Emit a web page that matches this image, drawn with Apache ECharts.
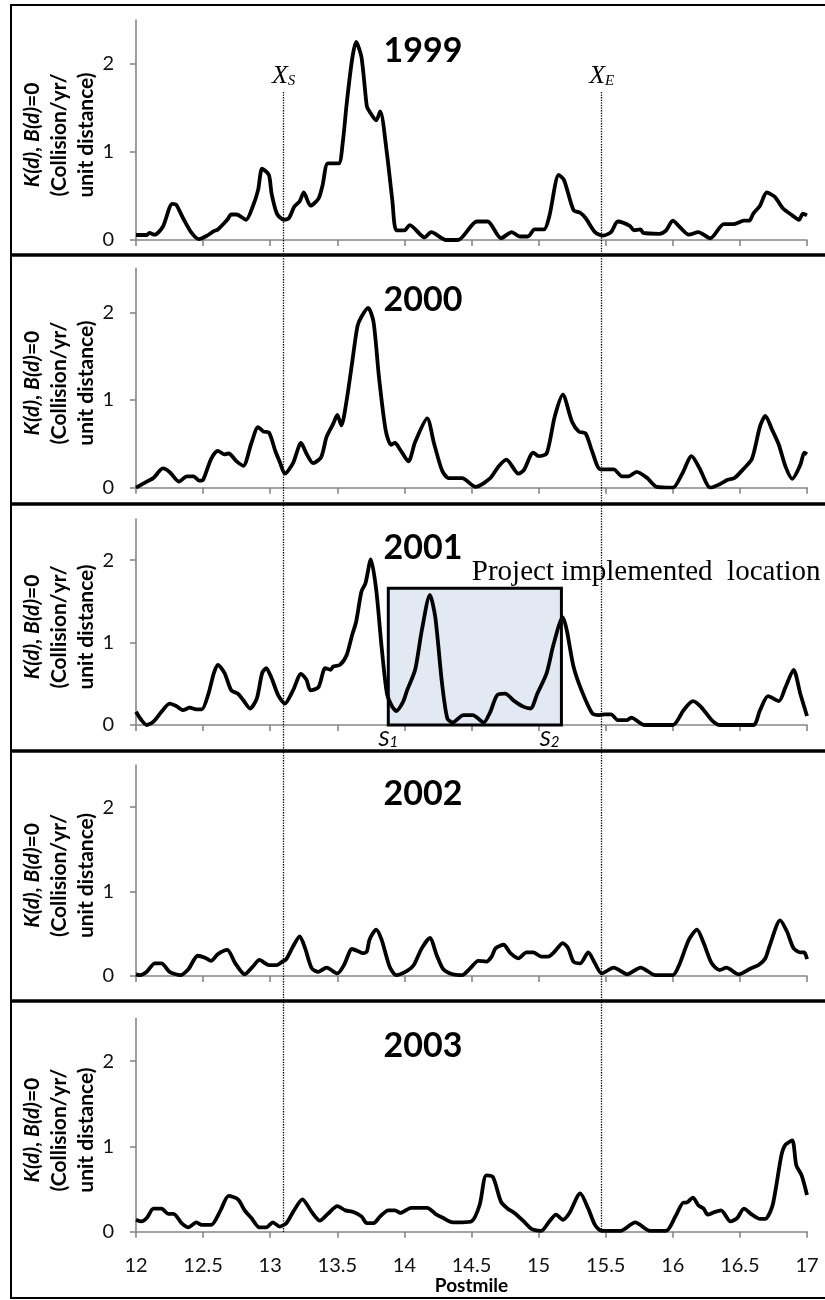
<!DOCTYPE html>
<html><head><meta charset="utf-8">
<script src="https://cdn.jsdelivr.net/npm/echarts@6/dist/echarts.min.js"></script>
<style>html,body{margin:0;padding:0;background:#fff}#c{width:825px;height:1300px}</style>
</head><body><div id="c"></div>
<script>
// ---------------- data ----------------
const years = ['1999', '2000', '2001', '2002', '2003'];
const yTickValues = [0, 1, 2];
const boundaryX = [13.1, 15.47];
const boundaryNames = ['S', 'E'];
const projectStart = 13.88, projectEnd = 15.17, projectTop = 1.66;
const projectLabel = 'Project implemented  location';
const siteNames = ['1', '2'];

const k1999 = [[12.0,0.057],[12.08,0.057],[12.1,0.08],[12.14,0.06],[12.2,0.15],[12.27,0.41],[12.3,0.40],[12.35,0.25],[12.41,0.09],[12.47,0.01],[12.53,0.05],[12.58,0.10],[12.61,0.12],[12.68,0.23],[12.71,0.29],[12.75,0.29],[12.82,0.23],[12.87,0.38],[12.91,0.57],[12.94,0.81],[12.99,0.74],[13.01,0.53],[13.05,0.30],[13.10,0.23],[13.14,0.25],[13.18,0.38],[13.22,0.44],[13.25,0.54],[13.30,0.39],[13.36,0.47],[13.39,0.62],[13.43,0.87],[13.51,0.87],[13.54,1.10],[13.57,1.55],[13.61,2.05],[13.64,2.25],[13.68,2.08],[13.72,1.52],[13.74,1.46],[13.79,1.36],[13.82,1.46],[13.87,0.98],[13.91,0.45],[13.94,0.11],[14.00,0.11],[14.04,0.17],[14.12,0.06],[14.15,0.03],[14.20,0.09],[14.31,0.0],[14.40,0.0],[14.54,0.21],[14.62,0.21],[14.72,0.02],[14.80,0.09],[14.86,0.04],[14.92,0.04],[14.97,0.12],[15.04,0.12],[15.08,0.27],[15.15,0.74],[15.19,0.68],[15.26,0.34],[15.31,0.31],[15.35,0.25],[15.42,0.09],[15.48,0.05],[15.54,0.09],[15.59,0.21],[15.68,0.16],[15.71,0.11],[15.76,0.12],[15.78,0.08],[15.90,0.07],[15.95,0.11],[16.00,0.22],[16.05,0.15],[16.12,0.06],[16.19,0.09],[16.28,0.02],[16.38,0.18],[16.45,0.18],[16.53,0.22],[16.57,0.22],[16.60,0.30],[16.65,0.39],[16.70,0.54],[16.76,0.49],[16.82,0.36],[16.89,0.28],[16.94,0.23],[16.97,0.30],[17.0,0.28]];
const k2000 = [[12.0,0],[12.08,0.07],[12.13,0.11],[12.2,0.22],[12.25,0.18],[12.32,0.07],[12.38,0.13],[12.43,0.13],[12.47,0.08],[12.5,0.09],[12.56,0.33],[12.61,0.42],[12.66,0.38],[12.69,0.39],[12.75,0.30],[12.8,0.25],[12.86,0.51],[12.91,0.69],[12.95,0.64],[12.99,0.63],[13.04,0.41],[13.07,0.30],[13.11,0.16],[13.17,0.28],[13.23,0.51],[13.27,0.39],[13.32,0.28],[13.38,0.35],[13.42,0.58],[13.47,0.73],[13.5,0.83],[13.53,0.71],[13.57,1.0],[13.61,1.42],[13.65,1.84],[13.68,1.95],[13.73,2.05],[13.77,1.89],[13.81,1.27],[13.86,0.66],[13.9,0.49],[13.93,0.51],[13.97,0.43],[14.03,0.30],[14.08,0.52],[14.17,0.79],[14.22,0.51],[14.28,0.20],[14.33,0.11],[14.43,0.11],[14.53,0.01],[14.64,0.11],[14.7,0.24],[14.76,0.32],[14.85,0.16],[14.89,0.2],[14.96,0.4],[15.0,0.36],[15.06,0.39],[15.12,0.81],[15.18,1.06],[15.25,0.75],[15.3,0.64],[15.35,0.62],[15.4,0.41],[15.46,0.21],[15.56,0.21],[15.62,0.13],[15.67,0.13],[15.73,0.18],[15.81,0.11],[15.88,0.01],[16.0,0],[16.07,0.16],[16.14,0.36],[16.2,0.22],[16.28,0],[16.35,0.04],[16.41,0.09],[16.46,0.11],[16.53,0.22],[16.59,0.33],[16.65,0.70],[16.69,0.82],[16.74,0.66],[16.79,0.49],[16.84,0.24],[16.89,0.10],[16.95,0.26],[16.98,0.40],[17.0,0.38]];
const k2001 = [[12.0,0.16],[12.04,0.06],[12.08,0],[12.13,0.04],[12.19,0.16],[12.25,0.26],[12.3,0.23],[12.35,0.18],[12.4,0.21],[12.45,0.19],[12.49,0.19],[12.54,0.38],[12.58,0.63],[12.61,0.73],[12.66,0.63],[12.71,0.42],[12.76,0.38],[12.8,0.30],[12.85,0.20],[12.9,0.32],[12.94,0.63],[12.97,0.69],[13.01,0.57],[13.06,0.36],[13.11,0.26],[13.17,0.42],[13.23,0.62],[13.27,0.55],[13.3,0.42],[13.36,0.46],[13.41,0.69],[13.45,0.67],[13.47,0.71],[13.52,0.73],[13.57,0.85],[13.61,1.09],[13.64,1.25],[13.68,1.62],[13.71,1.72],[13.75,2.01],[13.79,1.64],[13.83,0.95],[13.87,0.38],[13.91,0.22],[13.94,0.17],[13.99,0.28],[14.02,0.42],[14.08,0.67],[14.13,1.15],[14.19,1.58],[14.23,1.31],[14.28,0.51],[14.32,0.08],[14.36,0.03],[14.44,0.12],[14.51,0.12],[14.59,0.03],[14.64,0.16],[14.69,0.36],[14.75,0.38],[14.82,0.29],[14.89,0.22],[14.94,0.20],[14.99,0.38],[15.06,0.63],[15.11,0.97],[15.18,1.31],[15.21,1.15],[15.26,0.71],[15.32,0.42],[15.4,0.14],[15.45,0.12],[15.5,0.13],[15.54,0.13],[15.59,0.06],[15.66,0.06],[15.69,0.09],[15.79,0],[16.0,0],[16.08,0.18],[16.15,0.29],[16.21,0.22],[16.29,0.06],[16.35,0],[16.6,0],[16.65,0.18],[16.71,0.35],[16.79,0.29],[16.84,0.46],[16.9,0.67],[16.95,0.38],[17.0,0.11]];
const k2002 = [[12.0,0.02],[12.03,0.01],[12.08,0.05],[12.14,0.15],[12.19,0.15],[12.25,0.05],[12.33,0.01],[12.39,0.08],[12.46,0.24],[12.51,0.22],[12.56,0.18],[12.61,0.26],[12.68,0.31],[12.74,0.15],[12.81,0.02],[12.87,0.11],[12.92,0.19],[12.99,0.13],[13.05,0.13],[13.09,0.17],[13.12,0.2],[13.17,0.35],[13.22,0.47],[13.26,0.33],[13.31,0.09],[13.36,0.05],[13.42,0.10],[13.5,0.03],[13.55,0.13],[13.61,0.32],[13.66,0.29],[13.69,0.27],[13.72,0.29],[13.74,0.43],[13.79,0.55],[13.83,0.43],[13.89,0.11],[13.94,0.01],[14.02,0.06],[14.07,0.13],[14.13,0.33],[14.19,0.45],[14.24,0.25],[14.29,0.08],[14.36,0.02],[14.43,0.01],[14.49,0.09],[14.55,0.18],[14.61,0.17],[14.65,0.23],[14.68,0.33],[14.74,0.37],[14.79,0.27],[14.85,0.21],[14.91,0.28],[14.96,0.28],[15.02,0.23],[15.07,0.23],[15.12,0.29],[15.18,0.39],[15.22,0.33],[15.26,0.17],[15.31,0.15],[15.37,0.28],[15.42,0.15],[15.47,0.03],[15.56,0.10],[15.66,0.02],[15.76,0.10],[15.87,0.01],[16.0,0.01],[16.05,0.14],[16.12,0.43],[16.18,0.55],[16.23,0.39],[16.29,0.15],[16.35,0.07],[16.4,0.10],[16.49,0.02],[16.58,0.09],[16.64,0.13],[16.69,0.21],[16.72,0.35],[16.8,0.66],[16.85,0.53],[16.9,0.33],[16.95,0.28],[16.98,0.28],[17.0,0.2]];
const k2003 = [[12.0,0.14],[12.04,0.12],[12.08,0.16],[12.13,0.27],[12.19,0.27],[12.24,0.21],[12.28,0.21],[12.34,0.10],[12.39,0.05],[12.45,0.11],[12.49,0.08],[12.56,0.08],[12.63,0.25],[12.69,0.42],[12.76,0.38],[12.81,0.25],[12.86,0.16],[12.92,0.05],[12.97,0.05],[13.02,0.11],[13.07,0.06],[13.12,0.10],[13.17,0.23],[13.24,0.38],[13.31,0.23],[13.37,0.13],[13.43,0.21],[13.5,0.30],[13.56,0.25],[13.62,0.23],[13.68,0.18],[13.72,0.10],[13.77,0.10],[13.82,0.18],[13.88,0.25],[13.93,0.25],[13.97,0.22],[14.05,0.28],[14.17,0.28],[14.23,0.21],[14.29,0.16],[14.36,0.11],[14.43,0.11],[14.5,0.12],[14.56,0.31],[14.61,0.66],[14.66,0.64],[14.72,0.35],[14.77,0.27],[14.82,0.22],[14.89,0.12],[14.95,0.03],[15.02,0.01],[15.08,0.12],[15.13,0.20],[15.18,0.14],[15.23,0.22],[15.31,0.45],[15.37,0.27],[15.42,0.08],[15.47,0.01],[15.61,0.01],[15.72,0.11],[15.83,0.01],[15.95,0.01],[16.02,0.18],[16.08,0.34],[16.1,0.34],[16.15,0.40],[16.19,0.31],[16.23,0.27],[16.26,0.20],[16.31,0.23],[16.36,0.25],[16.43,0.12],[16.48,0.16],[16.53,0.27],[16.59,0.20],[16.65,0.15],[16.69,0.15],[16.74,0.29],[16.77,0.53],[16.81,0.90],[16.84,1.02],[16.89,1.07],[16.92,0.78],[16.96,0.66],[17.0,0.43]];
const seriesData = [k1999, k2000, k2001, k2002, k2003];

// ---------------- layout ----------------
const SANS = 'Lato, "Open Sans", sans-serif';
const SERIF = '"Liberation Serif", "DejaVu Serif", serif';
const plotLeft = 136, plotRight = 18;
const gridTop = [20, 268.5, 519, 765, 1018.5];
const gridH = [220, 219.2, 206, 211, 213.2];
const yearY = [51, 300, 548.5, 794, 1046];
const sepY = [255, 504, 751, 1001];
const AX = '#868686';

const grids = gridTop.map((t, i) => ({ left: plotLeft, right: plotRight, top: t, height: gridH[i] }));
grids.push({ left: plotLeft, right: plotRight, top: 92, height: 1232 - 92 });

const xAxes = gridTop.map((t, i) => ({
  gridIndex: i, type: 'value', min: 12, max: 17, interval: 0.5,
  axisLine: { show: true, onZero: false, lineStyle: { color: AX, width: 1.6 } },
  axisTick: { show: true, length: 6, lineStyle: { color: AX, width: 1.6 } },
  splitLine: { show: false },
  axisLabel: { show: i === 4, margin: 24, color: '#111', fontFamily: SANS, fontSize: 20 },
  name: i === 4 ? 'Postmile' : '', nameLocation: 'middle', nameGap: 40,
  nameTextStyle: { fontFamily: SANS, fontWeight: 'bold', fontSize: 19, color: '#000' }
}));
xAxes.push({ gridIndex: 5, type: 'value', min: 12, max: 17, show: false });

const yAxes = gridTop.map((t, i) => ({
  gridIndex: i, type: 'value', min: 0, max: 2.5, interval: 1,
  axisLine: { show: true, lineStyle: { color: AX, width: 1.6 } },
  axisTick: { show: true, length: 6, customValues: yTickValues, lineStyle: { color: AX, width: 1.6 } },
  splitLine: { show: false },
  axisLabel: { customValues: yTickValues, margin: 22, color: '#111', fontFamily: SANS, fontSize: 20 }
}));
yAxes.push({ gridIndex: 5, type: 'value', min: 0, max: 1, show: false });

const series = seriesData.map((d, i) => {
  const s = {
    type: 'line', xAxisIndex: i, yAxisIndex: i, data: d, showSymbol: false, smooth: 0.25,
    lineStyle: { color: '#000', width: 3.8 }, z: 5
  };
  if (i === 2) {
    s.markArea = {
      silent: true,
      itemStyle: { color: '#e3e9f3', borderColor: '#000', borderWidth: 3 },
      label: { show: true, position: [85, -14], align: 'left', verticalAlign: 'middle',
        fontFamily: SERIF, fontSize: 29, color: '#000', formatter: projectLabel },
      data: [[{ coord: [projectStart, projectTop] }, { coord: [projectEnd, 0] }]]
    };
    s.markPoint = {
      silent: true, symbol: 'circle', symbolSize: 0,
      label: {
        show: true, position: 'bottom', distance: 1,
        formatter: p => '{s|S}{n|' + p.name + '}',
        rich: {
          s: { fontFamily: SANS, fontStyle: 'italic', fontSize: 22, color: '#000', lineHeight: 24, verticalAlign: 'bottom' },
          n: { fontFamily: SANS, fontStyle: 'italic', fontSize: 15, color: '#000', lineHeight: 14, verticalAlign: 'bottom' }
        }
      },
      data: [
        { name: siteNames[0], coord: [projectStart, 0] },
        { name: siteNames[1], coord: [projectEnd, 0], label: { offset: [-12, 0] } }
      ]
    };
  }
  return s;
});

series.push({
  type: 'line', xAxisIndex: 5, yAxisIndex: 5, data: [], z: 3,
  markLine: {
    silent: true, symbol: ['none', 'none'],
    lineStyle: { type: 'dotted', color: '#000', width: 1.3 },
    label: {
      show: true, position: 'end', distance: 3,
      formatter: p => '{x|X}{s|' + p.name + '}',
      rich: {
        x: { fontFamily: SERIF, fontStyle: 'italic', fontSize: 26, color: '#000', lineHeight: 26, verticalAlign: 'bottom' },
        s: { fontFamily: SERIF, fontStyle: 'italic', fontSize: 15, color: '#000', lineHeight: 13, verticalAlign: 'bottom' }
      }
    },
    data: boundaryX.map((v, i) => ({ xAxis: v, name: boundaryNames[i] }))
  }
});

const graphic = [];
graphic.push({ type: 'rect', shape: { x: 11, y: 5, width: 830, height: 1293 },
  style: { fill: 'none', stroke: '#000', lineWidth: 2 }, z: 100 });
sepY.forEach(y => graphic.push({ type: 'line', shape: { x1: 11, y1: y, x2: 825, y2: y },
  style: { stroke: '#000', lineWidth: 3.5 }, z: 100 }));
years.forEach((yr, i) => {
  graphic.push({ type: 'text', x: 423, y: yearY[i], z: 100,
    style: { text: yr, fontFamily: SANS, fontWeight: 'bold', fontSize: 34, fill: '#000', align: 'center', verticalAlign: 'middle' } });
  graphic.push({ type: 'text', x: 59, y: gridTop[i] + gridH[i] / 2 + 5, rotation: Math.PI / 2, z: 100,
    style: {
      text: '{bi|K(d)}{b|, }{bi|B(d)}{b|=0}\n{b|(Collision/yr/}\n{b|unit distance)}',
      align: 'center', verticalAlign: 'middle', fill: '#000',
      rich: {
        bi: { fontFamily: SANS, fontWeight: 'bold', fontStyle: 'italic', fontSize: 21, lineHeight: 27, fill: '#000' },
        b: { fontFamily: SANS, fontWeight: 'bold', fontSize: 21, lineHeight: 27, fill: '#000' }
      }
    } });
});

const chart = echarts.init(document.getElementById('c'), null, { renderer: 'canvas' });
chart.setOption({
  animation: false,
  backgroundColor: '#fff',
  grid: grids, xAxis: xAxes, yAxis: yAxes, series: series, graphic: graphic
});
</script></body></html>
